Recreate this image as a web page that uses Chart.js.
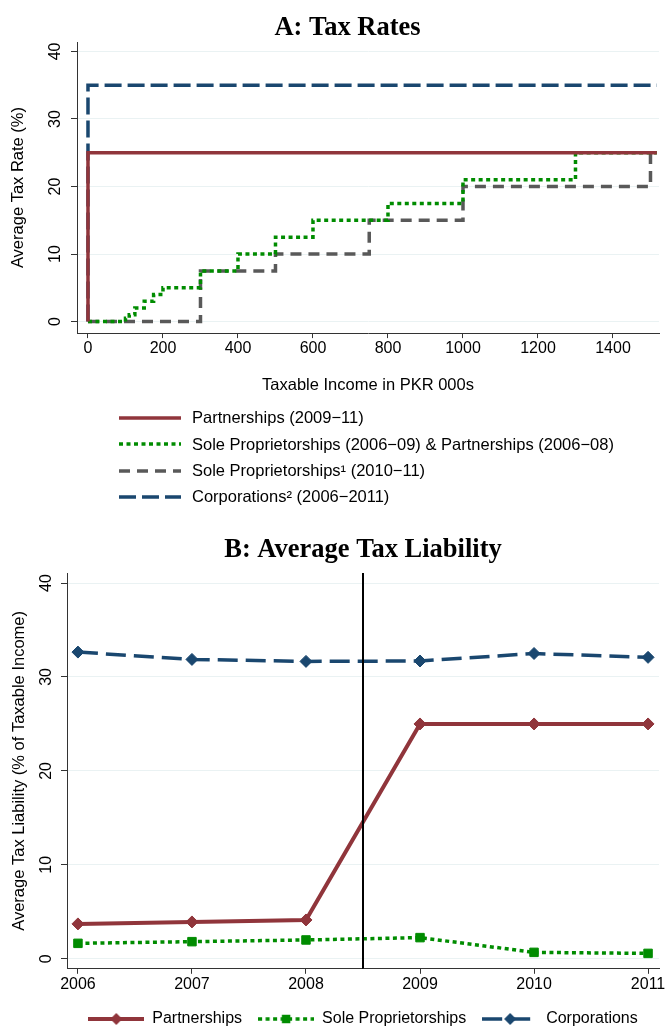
<!DOCTYPE html>
<html>
<head>
<meta charset="utf-8">
<script src="https://cdn.jsdelivr.net/npm/chart.js@4.4.1/dist/chart.umd.min.js"></script>
<style>
  html, body { margin: 0; padding: 0; background: #fff; overflow: hidden; }
  #page { position: relative; width: 667px; height: 1027px; }
  #chartA { position: absolute; left: 0; top: 0; }
  #chartB { position: absolute; left: 0; top: 511px; }
  #legendA { position: absolute; left: 119px; top: 404.85px;
             font-family: 'Liberation Sans', Arial, sans-serif; font-size: 16.5px; color: #000; }
  .row { height: 26.3px; display: flex; align-items: center; white-space: nowrap; }
  .row canvas { margin-right: 11px; }
</style>
</head>
<body>
<div id="page">
  <canvas id="chartA" width="667" height="399"></canvas>
  <div id="legendA"></div>
  <canvas id="chartB" width="667" height="526"></canvas>
</div>
<script>
// --- Panel A: tax schedules (income in PKR 000s, average rate in %) ---
const incomeEnd = 1517;
const partnershipX = [0, 0, incomeEnd];
const partnershipRate = [0, 25, 25];
const soleOldX = [0, 100, 110, 125, 150, 175, 200, 300, 400, 500, 600, 800, 1000, 1300, incomeEnd];
const soleOldRate = [0, 0.5, 1, 2, 3, 4, 5, 7.5, 10, 12.5, 15, 17.5, 21, 25, 25];
const soleNewX = [0, 300, 500, 750, 1000, 1500, incomeEnd];
const soleNewRate = [0, 7.5, 10, 15, 20, 25, 25];
const corpX = [0, 0, incomeEnd];
const corpRate = [0, 35, 35];
const incomeTicks = [0, 200, 400, 600, 800, 1000, 1200, 1400];
const rateTicks = [0, 10, 20, 30, 40];

// --- Panel B: average tax liability (% of taxable income) ---
const years = [2006, 2007, 2008, 2009, 2010, 2011];
const partnershipLiability = [3.71, 3.92, 4.13, 25.0, 25.0, 25.0];
const soleLiability = [1.64, 1.82, 2.0, 2.25, 0.68, 0.57];
const corpLiability = [32.65, 31.87, 31.66, 31.7, 32.5, 32.09];
const reformYear = 2008.5;

// colours / fonts
const maroon = '#90353b', green = '#008c00', gray = '#595959', navy = '#1a476f';
const ink = '#000', axisInk = '#333', gridColor = '#eaf2f3';
const sans = "'Liberation Sans', Arial, sans-serif";
const serif = "'Liberation Serif', 'Times New Roman', serif";

Chart.defaults.font.family = sans;
Chart.defaults.color = ink;

const fixedTicks = list => scale => { scale.ticks = list.map(v => ({ value: v })); };

function stepLine(label, xs, ys, color, dash) {
  return {
    label,
    data: xs.map((x, i) => ({ x, y: ys[i] })),
    borderColor: color, backgroundColor: color,
    borderWidth: 3.5, borderDash: dash,
    stepped: 'before', pointRadius: 0, fill: false,
    borderCapStyle: 'butt', borderJoinStyle: 'miter'
  };
}

function yAxis(min, max, titleText, tickPad, titlePad) {
  return {
    type: 'linear', min, max,
    afterBuildTicks: fixedTicks(rateTicks),
    grid: { color: gridColor, lineWidth: 1, drawTicks: true, tickLength: 6, tickColor: axisInk },
    border: { display: true, color: axisInk, width: 1 },
    ticks: { minRotation: 90, maxRotation: 90, crossAlign: 'center', padding: tickPad,
             color: ink, font: { size: 16 }, callback: v => String(v) },
    title: { display: true, text: titleText, color: ink, font: { size: 16.5 }, padding: titlePad }
  };
}

// left padding shifts the full-width title toward the plot centre; the axis title pulls back out
const chartA = new Chart(document.getElementById('chartA'), {
  type: 'line',
  data: {
    datasets: [
      stepLine('Partnerships (2009−11)', partnershipX, partnershipRate, maroon, []),
      stepLine('Sole Proprietorships (2006−09) & Partnerships (2006−08)', soleOldX, soleOldRate, green, [4, 3.5]),
      stepLine('Sole Proprietorships¹ (2010−11)', soleNewX, soleNewRate, gray, [11, 7]),
      stepLine('Corporations² (2006−2011)', corpX, corpRate, navy, [17, 6])
    ]
  },
  options: {
    responsive: false, animation: false,
    layout: { padding: { left: 36, right: 8, top: 0, bottom: 0 } },
    plugins: {
      legend: { display: false },
      tooltip: { enabled: false },
      title: { display: true, text: 'A: Tax Rates', fullSize: true, color: ink,
               font: { family: serif, size: 26.5, weight: 'bold' }, padding: { top: 12.1, bottom: -1.9 } }
    },
    scales: {
      x: {
        type: 'linear', min: -29.3, max: 1522.7,
        afterBuildTicks: fixedTicks(incomeTicks),
        grid: { drawOnChartArea: false, drawTicks: true, tickLength: 5, tickColor: axisInk },
        border: { display: true, color: axisInk, width: 1 },
        ticks: { padding: 1, maxRotation: 0, color: ink, font: { size: 16 }, callback: v => String(v) },
        title: { display: true, text: 'Taxable Income in PKR 000s', color: ink, font: { size: 16.5 },
                 padding: { top: 15.9, bottom: 4 } }
      },
      y: yAxis(-1.7, 41.4, 'Average Tax Rate (%)', 7, { top: -27.9, bottom: 9.9 })
    }
  }
});

// HTML legend for panel A, one entry per row
const legendA = document.getElementById('legendA');
chartA.data.datasets.forEach(ds => {
  const row = document.createElement('div');
  row.className = 'row';
  const c = document.createElement('canvas');
  c.width = 62; c.height = 14;
  const g = c.getContext('2d');
  g.strokeStyle = ds.borderColor; g.lineWidth = ds.borderWidth; g.setLineDash(ds.borderDash);
  g.beginPath(); g.moveTo(0, 7); g.lineTo(62, 7); g.stroke();
  const span = document.createElement('span');
  span.textContent = ds.label;
  row.appendChild(c); row.appendChild(span);
  legendA.appendChild(row);
});

// --- Panel B ---
function seriesLine(label, ys, color, dash, width, marker, r) {
  return {
    label,
    data: years.map((x, i) => ({ x, y: ys[i] })),
    borderColor: color, backgroundColor: color,
    borderWidth: width, borderDash: dash,
    pointStyle: marker, pointRadius: r,
    pointBackgroundColor: color, pointBorderColor: color, pointBorderWidth: 1,
    tension: 0, fill: false, clip: false
  };
}

// line sample + marker, used as the legend symbol
function swatch(ds) {
  const c = document.createElement('canvas');
  c.width = 56; c.height = 16;
  const g = c.getContext('2d');
  g.strokeStyle = ds.borderColor; g.lineWidth = ds.borderWidth; g.setLineDash(ds.borderDash);
  g.beginPath(); g.moveTo(0, 8); g.lineTo(56, 8); g.stroke();
  g.setLineDash([]);
  g.fillStyle = ds.borderColor;
  const r = ds.pointRadius;
  g.beginPath();
  if (ds.pointStyle === 'rectRot') {
    g.moveTo(28, 8 - r); g.lineTo(28 + r, 8); g.lineTo(28, 8 + r); g.lineTo(28 - r, 8); g.closePath();
  } else {
    const h = r * Math.SQRT1_2;
    g.rect(28 - h, 8 - h, 2 * h, 2 * h);
  }
  g.fill();
  return c;
}

const reformLine = {
  id: 'reformLine',
  afterDatasetsDraw(chart) {
    const { ctx, chartArea, scales } = chart;
    const x = scales.x.getPixelForValue(reformYear);
    ctx.save();
    ctx.strokeStyle = '#000'; ctx.lineWidth = 2;
    ctx.beginPath(); ctx.moveTo(x, chartArea.top); ctx.lineTo(x, chartArea.bottom); ctx.stroke();
    ctx.restore();
  }
};

new Chart(document.getElementById('chartB'), {
  type: 'line',
  data: {
    datasets: [
      seriesLine('Partnerships', partnershipLiability, maroon, [], 4, 'rectRot', 6),
      seriesLine('Sole Proprietorships', soleLiability, green, [4, 3.5], 3.5, 'rect', 6),
      seriesLine('Corporations', corpLiability, navy, [20, 8], 3.5, 'rectRot', 6)
    ]
  },
  options: {
    responsive: false, animation: false,
    layout: { padding: { left: 0, right: 8, top: 0, bottom: 0 } },
    plugins: {
      tooltip: { enabled: false },
      title: { display: true, text: 'B: Average Tax Liability', fullSize: false, color: ink,
               font: { family: serif, size: 26.5, weight: 'bold' }, padding: { top: 23.1, bottom: 7.1 } },
      legend: {
        display: true, position: 'bottom', fullSize: false, align: 'center',
        labels: {
          usePointStyle: true, pointStyleWidth: 56, padding: 16, color: ink, font: { size: 16 },
          generateLabels: chart => chart.data.datasets.map((ds, i) => ({
            text: ds.label, pointStyle: swatch(ds), fillStyle: ds.borderColor,
            strokeStyle: ds.borderColor, lineWidth: 0, hidden: false, datasetIndex: i, fontColor: ink
          }))
        }
      }
    },
    scales: {
      x: {
        type: 'linear', min: 2005.904, max: 2011.096,
        afterBuildTicks: fixedTicks(years),
        grid: { drawOnChartArea: false, drawTicks: true, tickLength: 5, tickColor: axisInk },
        border: { display: true, color: axisInk, width: 1 },
        ticks: { padding: 1, maxRotation: 0, color: ink, font: { size: 16 }, callback: v => String(v) }
      },
      y: yAxis(-1.07, 41.07, 'Average Tax Liability (% of Taxable Income)', 6, { top: 9.1, bottom: 0.9 })
    }
  },
  plugins: [reformLine]
});
</script>
</body>
</html>
